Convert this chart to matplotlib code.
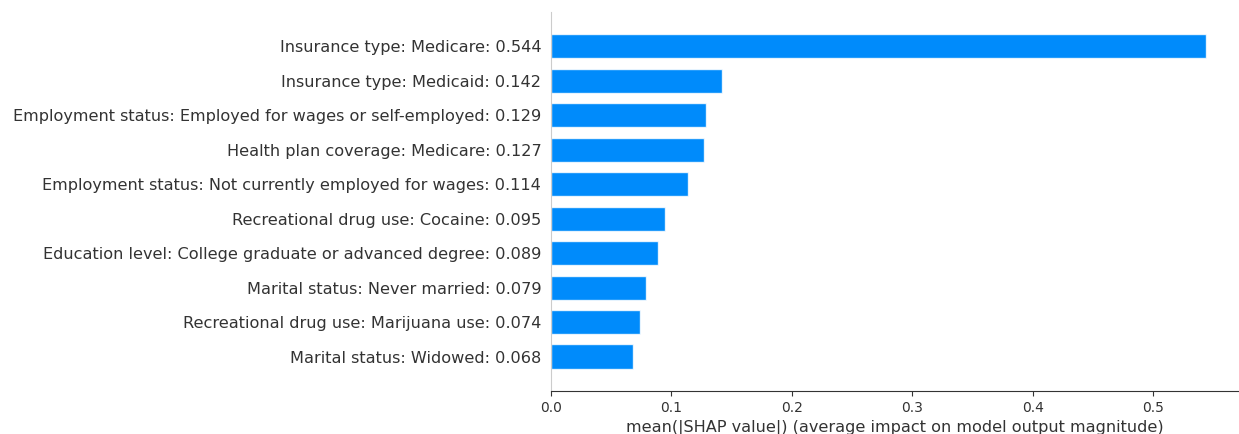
import matplotlib
matplotlib.use("Agg")
import matplotlib.pyplot as plt

features = [
    "Insurance type: Medicare",
    "Insurance type: Medicaid",
    "Employment status: Employed for wages or self-employed",
    "Health plan coverage: Medicare",
    "Employment status: Not currently employed for wages",
    "Recreational drug use: Cocaine",
    "Education level: College graduate or advanced degree",
    "Marital status: Never married",
    "Recreational drug use: Marijuana use",
    "Marital status: Widowed",
]
mean_shap = [0.544, 0.142, 0.129, 0.127, 0.114, 0.095, 0.089, 0.079, 0.074, 0.068]

labels = [f"{f}: {v:.3f}" for f, v in zip(features, mean_shap)]

fig = plt.figure(figsize=(12.39, 4.34), dpi=100)
ax = fig.add_axes([0.4447, 0.0991, 0.5553, 0.8733])

# top feature drawn at the top
y_pos = list(range(len(features)))[::-1]
ax.barh(y_pos, mean_shap, 0.7, align="center", color="#008bfb",
        edgecolor=(1, 1, 1, 0.8))

ax.set_yticks(y_pos)
ax.set_yticklabels(labels, fontsize=11.6, color="#333333")
ax.set_ylim(-1, len(features))

ax.spines["top"].set_visible(False)
ax.spines["right"].set_visible(False)
ax.spines["left"].set_color("#cccccc")
ax.spines["bottom"].set_color("#333333")
ax.tick_params("y", length=0, pad=7)
ax.tick_params("x", labelsize=10, colors="#333333", labelcolor="#333333")
ax.set_xlabel("mean(|SHAP value|) (average impact on model output magnitude)",
              fontsize=11.6, color="#333333")

fig.savefig("out.png", dpi=100)
